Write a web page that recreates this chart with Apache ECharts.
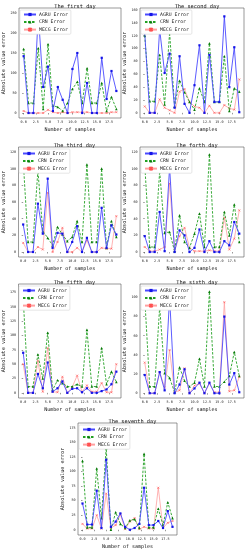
<!DOCTYPE html>
<html><head><meta charset="utf-8">
<script src="https://cdn.jsdelivr.net/npm/echarts@6/dist/echarts.min.js"></script>
<style>html,body{margin:0;padding:0;background:#fff}#c{width:247px;height:550px}</style>
</head><body><div id="c"></div>
<script>
var samples = [0,1,2,3,4,5,6,7,8,9,10,11,12,13,14,15,16,17,18,19];
var xTicks = [0,2.5,5,7.5,10,12.5,15,17.5];
var seriesNames = ['AGRU Error','CRN Error','MECG Error'];
var dayTitles = ['The first day','The second day','The third day','The forth day','The fifth day','The sixth day','The seventh day'];

var day1_agru = [142,0,0,248,65,116,5,65,33,0,110,150,0,75,0,0,138,35,105,55];
var day1_crn  = [160,25,25,162,10,172,18,15,5,25,60,78,25,112,25,25,75,5,40,10];
var day1_mecg = [5,0,0,0,0,8,2,0,2,0,2,2,2,2,0,0,0,0,2,2];
var day1_ticks = [0,50,100,150,200,250];

var day2_agru = [125,0,0,130,62,92,8,88,14,0,43,105,0,90,17,17,150,40,102,1];
var day2_crn  = [120,18,18,90,13,125,10,50,32,17,5,38,17,108,17,17,88,3,38,33];
var day2_mecg = [10,0,0,21,8,4,0,33,37,17,10,8,0,11,0,0,12,7,5,52];
var day2_ticks = [0,20,40,60,80,100,120,140,160];

var day3_agru = [33,0,0,58,22,88,5,23,22,0,12,31,0,17,0,0,53,5,32,21];
var day3_crn  = [110,12,12,98,25,17,8,30,21,13,18,37,12,105,12,12,100,5,37,18];
var day3_mecg = [11,0,0,6,3,71,0,12,29,0,0,5,0,14,0,0,5,4,4,43];
var day3_ticks = [0,20,40,60,80,100,120];

var day4_agru = [19,0,0,48,1,102,0,26,20,0,5,27,0,13,0,0,13,8,36,22];
var day4_crn  = [105,6,6,97,23,24,1,44,12,5,22,46,6,117,6,6,48,20,57,12];
var day4_mecg = [6,1,1,3,6,82,2,19,29,5,1,1,1,2,1,1,41,3,16,50];
var day4_ticks = [0,20,40,60,80,100,120];

var day5_agru = [70,0,0,33,8,53,2,8,20,0,7,8,1,8,0,0,3,6,15,37];
var day5_crn  = [165,11,11,67,25,105,5,22,17,11,11,15,11,110,11,11,78,15,37,19];
var day5_mecg = [50,0,0,56,2,78,2,1,28,0,10,30,2,13,2,2,17,1,1,50];
var day5_ticks = [0,25,50,75,100,125,150,175];

var day6_agru = [19,0,0,22,3,100,0,9,25,0,5,11,0,11,0,0,80,9,21,1];
var day6_crn  = [100,7,7,90,21,16,1,27,13,7,11,36,7,106,7,7,12,18,43,18];
var day6_mecg = [32,0,0,22,6,45,1,3,26,0,8,10,0,10,1,1,95,2,3,17];
var day6_ticks = [0,20,40,60,80,100];

var day7_agru = [45,9,9,67,3,120,5,14,28,5,0,3,10,72,8,8,15,3,32,5];
var day7_crn  = [118,4,4,105,20,140,0,30,10,3,16,18,3,130,4,4,36,8,47,20];
var day7_mecg = [10,2,2,25,2,62,3,8,26,1,14,20,1,5,2,2,72,3,12,15];
var day7_ticks = [0,25,50,75,100,125,150,175];

var days = [
  {a:day1_agru,c:day1_crn,m:day1_mecg,t:day1_ticks},
  {a:day2_agru,c:day2_crn,m:day2_mecg,t:day2_ticks},
  {a:day3_agru,c:day3_crn,m:day3_mecg,t:day3_ticks},
  {a:day4_agru,c:day4_crn,m:day4_mecg,t:day4_ticks},
  {a:day5_agru,c:day5_crn,m:day5_mecg,t:day5_ticks},
  {a:day6_agru,c:day6_crn,m:day6_mecg,t:day6_ticks},
  {a:day7_agru,c:day7_crn,m:day7_mecg,t:day7_ticks}
];

// layout (positions/styles only)
var grids = [
  {left:19,top:8,width:102,height:110, ymin:-12.5, ymax:262.5},
  {left:140,top:8,width:104,height:110, ymin:-8, ymax:163},
  {left:18,top:147,width:103,height:110, ymin:-6, ymax:126},
  {left:140,top:147,width:104,height:110, ymin:-6, ymax:126},
  {left:18,top:284,width:103,height:114, ymin:-9, ymax:190},
  {left:140,top:284,width:104,height:114, ymin:-5, ymax:114},
  {left:78,top:423,width:99,height:112, ymin:-9, ymax:183}
];
var FONT = 'DejaVu Sans Mono';
var crossPath = 'path://M0,0L10,10M10,0L0,10';

function pairs(vals){ return samples.map(function(x,i){ return [x, vals[i]]; }); }

var option = {
  animation:false,
  textStyle:{fontFamily:FONT},
  title:[], legend:[], grid:[], xAxis:[], yAxis:[], series:[]
};
grids.forEach(function(g,i){
  option.grid.push({left:g.left,top:g.top,width:g.width,height:g.height,show:true,borderColor:'#555',borderWidth:0.6,containLabel:false});
  option.title.push({text:dayTitles[i],left:g.left+g.width/2,top:g.top-9,textAlign:'center',
    textStyle:{fontFamily:FONT,fontSize:5.3,fontWeight:'normal',color:'#111'}});
  option.legend.push({data:seriesNames,left:g.left+1,top:g.top+2,orient:'vertical',itemWidth:12,itemHeight:4,itemGap:2.5,
    padding:[2,3],backgroundColor:'#fff',borderColor:'#ccc',borderWidth:0.5,borderRadius:1,
    textStyle:{fontFamily:FONT,fontSize:4.8,color:'#222',padding:[0,0,0,-2]}});
  option.xAxis.push({type:'value',gridIndex:i,min:-0.95,max:19.95,
    name:'Number of samples',nameLocation:'middle',nameGap:9,
    nameTextStyle:{fontFamily:FONT,fontSize:5,color:'#111'},
    axisLine:{show:false},splitLine:{show:false},
    axisTick:{show:true,length:1.5,inside:false,customValues:xTicks,lineStyle:{color:'#333',width:0.5}},
    axisLabel:{show:true,customValues:xTicks,fontSize:3.4,margin:2.5,color:'#222',fontFamily:FONT,
      formatter:function(v){return v.toFixed(1);}}
  });
  option.yAxis.push({type:'value',gridIndex:i,min:g.ymin,max:g.ymax,
    name:'Absolute value error',nameLocation:'middle',nameGap:12,nameRotate:90,
    nameTextStyle:{fontFamily:FONT,fontSize:5.2,color:'#111'},
    axisLine:{show:false},splitLine:{show:false},
    axisTick:{show:true,length:1.5,customValues:days[i].t,lineStyle:{color:'#333',width:0.5}},
    axisLabel:{show:true,customValues:days[i].t,fontSize:3.4,margin:2.5,color:'#222',fontFamily:FONT}
  });
  var d = days[i];
  option.series.push({name:seriesNames[0],type:'line',xAxisIndex:i,yAxisIndex:i,data:pairs(d.a),
    symbol:'rect',symbolSize:2.2,color:'#3b3bff',
    lineStyle:{color:'#4a4aff',width:0.9},itemStyle:{color:'#1414e6'},z:3});
  option.series.push({name:seriesNames[1],type:'line',xAxisIndex:i,yAxisIndex:i,data:pairs(d.c),
    symbol:'triangle',symbolSize:2.6,color:'#1a9a1a',
    lineStyle:{color:'#22a022',width:0.9,type:[2.5,1.5]},itemStyle:{color:'#0a7a0a'},z:2});
  option.series.push({name:seriesNames[2],type:'line',xAxisIndex:i,yAxisIndex:i,data:pairs(d.m),
    symbol:crossPath,symbolSize:2,color:'#ff8a8a',
    lineStyle:{color:'#ffa0a0',width:0.8},itemStyle:{color:'#ff6060',borderColor:'#ff5050',borderWidth:0.6},z:1});
});
var chart = echarts.init(document.getElementById('c'),null,{renderer:'canvas'});
chart.setOption(option);
</script>
</body></html>
